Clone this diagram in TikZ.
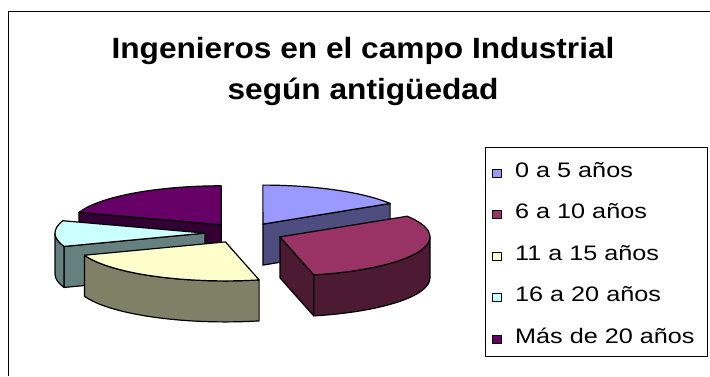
\documentclass[tikz,border=0pt]{standalone}
\usepackage{fontspec}
\setmainfont{Liberation Sans}
\usepackage{graphicx}
\definecolor{cA}{HTML}{9999FF}\definecolor{cAs}{HTML}{4D4D80}
\definecolor{cB}{HTML}{993366}\definecolor{cBs}{HTML}{4D1A33}
\definecolor{cC}{HTML}{FFFFCC}\definecolor{cCs}{HTML}{808066}
\definecolor{cD}{HTML}{CCFFFF}\definecolor{cDs}{HTML}{668080}
\definecolor{cE}{HTML}{660066}\definecolor{cEs}{HTML}{330033}
\begin{document}
\begin{tikzpicture}[x=1pt,y=1pt,line join=round,
  face/.style={draw=black,line width=1.2pt},
  ttl/.style={anchor=base,inner sep=0pt,font=\bfseries\fontsize{29.3}{30}\selectfont},
  legtext/.style={anchor=base west,inner sep=0pt,font=\fontsize{21}{22}\selectfont},
  legbox/.style={draw=black,line width=0.8pt,minimum width=8.5pt,minimum height=8pt,inner sep=0pt,anchor=south west}]
\useasboundingbox (0,0) rectangle (710,376);
\fill[white] (0,0) rectangle (710,376);
\draw[line width=1.6pt] (8.5,0) -- (8.5,364.5) -- (710,364.5);
% title
\node[ttl] (t1) at (363,317.5) {\scalebox{1.08}[1]{Ingenieros en el campo Industrial}};
\node[ttl] (t2) at (363,277) {\scalebox{1.08}[1]{según antigüedad}};
% slice 1
\coordinate (P1) at (262.9,151.9);
\filldraw[face,fill=cAs] (P1) -- ++(127.2,20.67) -- ++(0,-41) -- ++(-127.2,-20.67) -- cycle;
\filldraw[face,fill=cA] (P1) -- ++(127.2,20.67) arc[start angle=32,end angle=90,x radius=150pt,y radius=39pt] -- cycle;
% slice 5
\coordinate (P5) at (221.2,151.2);
\filldraw[face,fill=cEs] (P5) -- ++(-142.25,12.37) -- ++(0,-41) -- ++(142.25,-12.37) -- cycle;
\filldraw[face,fill=cE] (P5) -- ++(0,39) arc[start angle=90,end angle=161.5,x radius=150pt,y radius=39pt] -- cycle;
% slice 4
\coordinate (P4) at (205,142.9);
\filldraw[face,fill=cDs] (P4) -- ++(-140.95,-13.34) -- ++(0,-41) -- ++(140.95,13.34) -- cycle;
\filldraw[face,fill=cDs] (P4) ++(-150,0) arc[start angle=180,end angle=200,x radius=150pt,y radius=39pt] -- ++(0,-41) arc[start angle=200,end angle=180,x radius=150pt,y radius=39pt] -- cycle;
\filldraw[face,fill=cD] (P4) -- ++(-142.25,12.37) arc[start angle=161.5,end angle=200,x radius=150pt,y radius=39pt] -- cycle;
% slice 2
\coordinate (P2) at (280,139.1);
\filldraw[face,fill=cBs] (P2) -- ++(33.74,-38) -- ++(0,-41) -- ++(-33.74,38) -- cycle;
\filldraw[face,fill=cBs] (P2) ++(33.74,-38) arc[start angle=-77,end angle=0,x radius=150pt,y radius=39pt] -- ++(0,-41) arc[start angle=0,end angle=-77,x radius=150pt,y radius=39pt] -- cycle;
\filldraw[face,fill=cB] (P2) -- ++(33.74,-38) arc[start angle=-77,end angle=32,x radius=150pt,y radius=39pt] -- cycle;
% slice 3
\coordinate (P3) at (225.4,134.1);
\filldraw[face,fill=cCs] (P3) ++(-140.95,-13.34) arc[start angle=200,end angle=283,x radius=150pt,y radius=39pt] -- ++(0,-41) arc[start angle=283,end angle=200,x radius=150pt,y radius=39pt] -- cycle;
\filldraw[face,fill=cC] (P3) -- ++(-140.95,-13.34) arc[start angle=200,end angle=283,x radius=150pt,y radius=39pt] -- cycle;
% legend
\draw[line width=0.8pt] (485,20) rectangle (707,228.3);
\node[legbox,fill=cA] (k1) at (492,198.7) {};
\node[legtext] (l1) at (515,198.7) {\scalebox{1.2}[1]{0 a 5 años}};
\node[legbox,fill=cB] (k2) at (492,157.2) {};
\node[legtext] (l2) at (515,157.2) {\scalebox{1.2}[1]{6 a 10 años}};
\node[legbox,fill=cC] (k3) at (492,115.7) {};
\node[legtext] (l3) at (515,115.7) {\scalebox{1.2}[1]{11 a 15 años}};
\node[legbox,fill=cD] (k4) at (492,74.2) {};
\node[legtext] (l4) at (515,74.2) {\scalebox{1.2}[1]{16 a 20 años}};
\node[legbox,fill=cE] (k5) at (492,32.7) {};
\node[legtext] (l5) at (515,32.7) {\scalebox{1.2}[1]{Más de 20 años}};
\end{tikzpicture}
\end{document}
